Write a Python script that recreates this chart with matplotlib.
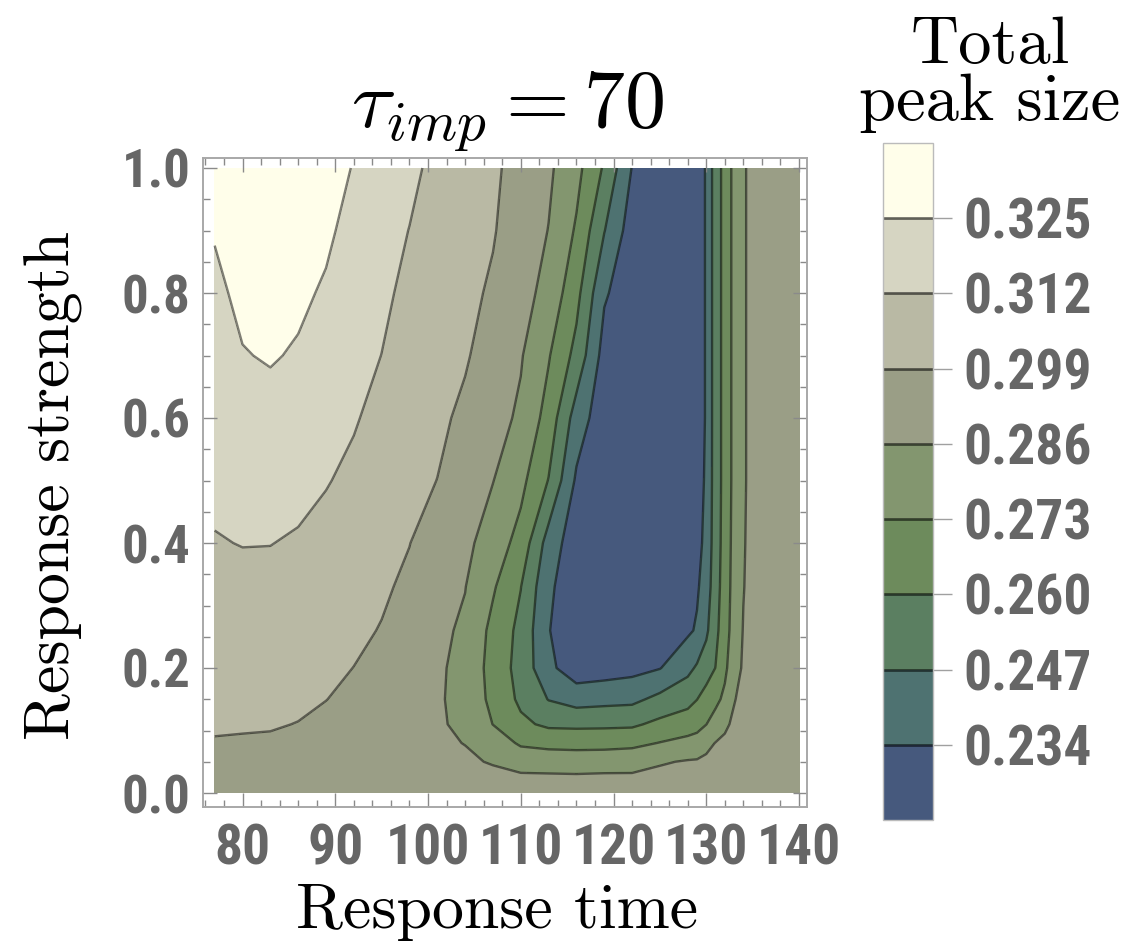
import numpy as np
import matplotlib
matplotlib.use("Agg")
import matplotlib.pyplot as plt
from matplotlib.ticker import MultipleLocator, FixedLocator

# ---------------- data ----------------
response_time = [77, 80, 83, 86, 89, 92, 95, 98, 101, 104, 107, 110, 113, 116,
                 119, 122, 125, 128, 129, 130, 131, 132, 133, 134, 135, 137, 140]
response_strength = [0.0, 0.02, 0.05, 0.08, 0.11, 0.15, 0.2, 0.26, 0.33, 0.4,
                     0.5, 0.6, 0.7, 0.8, 0.9, 1.0]

# total peak size, one list per response time (bottom -> top in response strength)
peak_t077 = [0.2930, 0.2944, 0.2964, 0.2985, 0.2999, 0.3015, 0.3034, 0.3058, 0.3086, 0.3114, 0.3144, 0.3172, 0.3200, 0.3228, 0.3257, 0.3290]
peak_t080 = [0.2930, 0.2943, 0.2963, 0.2982, 0.2998, 0.3015, 0.3037, 0.3063, 0.3093, 0.3123, 0.3163, 0.3203, 0.3245, 0.3273, 0.3302, 0.3330]
peak_t083 = [0.2930, 0.2942, 0.2961, 0.2980, 0.2996, 0.3013, 0.3035, 0.3061, 0.3092, 0.3122, 0.3169, 0.3216, 0.3258, 0.3285, 0.3312, 0.3340]
peak_t086 = [0.2930, 0.2941, 0.2957, 0.2974, 0.2988, 0.3005, 0.3026, 0.3051, 0.3080, 0.3109, 0.3152, 0.3196, 0.3240, 0.3269, 0.3295, 0.3320]
peak_t089 = [0.2930, 0.2938, 0.2950, 0.2963, 0.2975, 0.2991, 0.3010, 0.3034, 0.3061, 0.3088, 0.3126, 0.3163, 0.3201, 0.3238, 0.3268, 0.3290]
peak_t092 = [0.2930, 0.2936, 0.2945, 0.2953, 0.2962, 0.2974, 0.2989, 0.3010, 0.3035, 0.3060, 0.3097, 0.3129, 0.3158, 0.3187, 0.3216, 0.3245]
peak_t095 = [0.2930, 0.2934, 0.2940, 0.2947, 0.2953, 0.2962, 0.2973, 0.2985, 0.3005, 0.3027, 0.3058, 0.3088, 0.3119, 0.3142, 0.3160, 0.3180]
peak_t098 = [0.2930, 0.2928, 0.2925, 0.2923, 0.2923, 0.2927, 0.2937, 0.2952, 0.2970, 0.2992, 0.3017, 0.3042, 0.3068, 0.3093, 0.3118, 0.3145]
peak_t101 = [0.2930, 0.2915, 0.2895, 0.2880, 0.2873, 0.2872, 0.2875, 0.2885, 0.2905, 0.2935, 0.2989, 0.3010, 0.3030, 0.3050, 0.3070, 0.3091]
peak_t104 = [0.2930, 0.2908, 0.2880, 0.2857, 0.2838, 0.2828, 0.2830, 0.2842, 0.2863, 0.2890, 0.2935, 0.2970, 0.3000, 0.3017, 0.3033, 0.3049]
peak_t107 = [0.2930, 0.2903, 0.2850, 0.2800, 0.2728, 0.2695, 0.2680, 0.2695, 0.2745, 0.2800, 0.2863, 0.2905, 0.2945, 0.2975, 0.2998, 0.3008]
peak_t110 = [0.2930, 0.2895, 0.2809, 0.2712, 0.2625, 0.2575, 0.2555, 0.2565, 0.2603, 0.2685, 0.2765, 0.2840, 0.2870, 0.2905, 0.2930, 0.2951]
peak_t113 = [0.2930, 0.2890, 0.2810, 0.2689, 0.2577, 0.2465, 0.2370, 0.2345, 0.2365, 0.2415, 0.2595, 0.2680, 0.2740, 0.2820, 0.2857, 0.2881]
peak_t116 = [0.2930, 0.2890, 0.2803, 0.2685, 0.2573, 0.2417, 0.2265, 0.2255, 0.2250, 0.2260, 0.2320, 0.2410, 0.2560, 0.2640, 0.2715, 0.2769]
peak_t119 = [0.2930, 0.2895, 0.2805, 0.2688, 0.2575, 0.2430, 0.2280, 0.2255, 0.2245, 0.2245, 0.2250, 0.2260, 0.2290, 0.2355, 0.2475, 0.2584]
peak_t122 = [0.2930, 0.2892, 0.2812, 0.2698, 0.2579, 0.2439, 0.2300, 0.2255, 0.2245, 0.2240, 0.2240, 0.2245, 0.2250, 0.2265, 0.2275, 0.2335]
peak_t125 = [0.2930, 0.2900, 0.2849, 0.2734, 0.2631, 0.2504, 0.2335, 0.2275, 0.2260, 0.2255, 0.2255, 0.2258, 0.2262, 0.2265, 0.2270, 0.2275]
peak_t128 = [0.2930, 0.2905, 0.2869, 0.2767, 0.2668, 0.2557, 0.2436, 0.2320, 0.2295, 0.2290, 0.2290, 0.2290, 0.2290, 0.2290, 0.2290, 0.2290]
peak_t129 = [0.2930, 0.2907, 0.2872, 0.2779, 0.2689, 0.2598, 0.2486, 0.2353, 0.2325, 0.2310, 0.2310, 0.2310, 0.2310, 0.2310, 0.2310, 0.2310]
peak_t130 = [0.2930, 0.2910, 0.2881, 0.2830, 0.2728, 0.2650, 0.2541, 0.2445, 0.2395, 0.2365, 0.2350, 0.2345, 0.2345, 0.2345, 0.2345, 0.2345]
peak_t131 = [0.2930, 0.2913, 0.2888, 0.2863, 0.2788, 0.2695, 0.2602, 0.2570, 0.2555, 0.2548, 0.2545, 0.2545, 0.2545, 0.2545, 0.2545, 0.2545]
peak_t132 = [0.2930, 0.2917, 0.2896, 0.2875, 0.2845, 0.2760, 0.2700, 0.2665, 0.2650, 0.2642, 0.2637, 0.2637, 0.2637, 0.2637, 0.2637, 0.2637]
peak_t133 = [0.2930, 0.2920, 0.2905, 0.2890, 0.2875, 0.2855, 0.2820, 0.2795, 0.2785, 0.2778, 0.2770, 0.2770, 0.2770, 0.2770, 0.2770, 0.2770]
peak_t134 = [0.2930, 0.2925, 0.2915, 0.2905, 0.2895, 0.2885, 0.2872, 0.2865, 0.2856, 0.2852, 0.2848, 0.2848, 0.2848, 0.2848, 0.2848, 0.2848]
peak_t135 = [0.2930, 0.2928, 0.2925, 0.2920, 0.2915, 0.2910, 0.2902, 0.2897, 0.2893, 0.2890, 0.2888, 0.2888, 0.2888, 0.2888, 0.2888, 0.2888]
peak_t137 = [0.2930, 0.2929, 0.2928, 0.2926, 0.2924, 0.2922, 0.2920, 0.2920, 0.2920, 0.2920, 0.2920, 0.2920, 0.2920, 0.2920, 0.2920, 0.2920]
peak_t140 = [0.2930, 0.2930, 0.2930, 0.2930, 0.2930, 0.2930, 0.2930, 0.2930, 0.2930, 0.2930, 0.2930, 0.2930, 0.2930, 0.2930, 0.2930, 0.2930]

contour_levels = [0.221, 0.234, 0.247, 0.260, 0.273, 0.286, 0.299, 0.312, 0.325, 0.338]
tick_levels = [0.234, 0.247, 0.260, 0.273, 0.286, 0.299, 0.312, 0.325]
x_ticks = [80, 90, 100, 110, 120, 130, 140]
y_ticks = [0.0, 0.2, 0.4, 0.6, 0.8, 1.0]
band_colors = ["#46597D", "#4E7271", "#5B7F61", "#6D8B5C", "#83966F",
               "#9A9E86", "#B9B9A4", "#D6D5C2", "#FFFEEA"]

# ---------------- figure ----------------
plt.rcParams["mathtext.fontset"] = "cm"
TICK_FAMILY = ["Roboto Condensed", "Liberation Sans", "DejaVu Sans"]

W, H = 1137, 950
fig = plt.figure(figsize=(W / 100, H / 100), dpi=100)

ax = fig.add_axes([203 / W, (H - 807) / H, 604 / W, 649 / H])
columns = [peak_t077, peak_t080, peak_t083, peak_t086, peak_t089, peak_t092, peak_t095,
           peak_t098, peak_t101, peak_t104, peak_t107, peak_t110, peak_t113, peak_t116,
           peak_t119, peak_t122, peak_t125, peak_t128, peak_t129, peak_t130, peak_t131,
           peak_t132, peak_t133, peak_t134, peak_t135, peak_t137, peak_t140]
Z = np.column_stack(columns)
X, Y = np.meshgrid(response_time, response_strength)

cf = ax.contourf(X, Y, Z, levels=contour_levels, colors=band_colors, antialiased=False)
cs = ax.contour(X, Y, Z, levels=tick_levels, colors="black", alpha=0.5, linewidths=1.7)

ax.set_xlim(75.74, 140.86)
ax.set_ylim(-0.0224, 1.016)
ax.xaxis.set_major_locator(FixedLocator(x_ticks))
ax.xaxis.set_minor_locator(MultipleLocator(2))
ax.yaxis.set_major_locator(FixedLocator(y_ticks))
ax.yaxis.set_minor_locator(MultipleLocator(0.05))
ax.set_xticklabels([str(v) for v in x_ticks])
ax.set_yticklabels([f"{v:.1f}" for v in y_ticks])
for sp in ax.spines.values():
    sp.set_color("#a8a8a8")
    sp.set_linewidth(1.4)
ax.tick_params(which="both", direction="in", top=True, right=True, color="#8a8a8a", width=1)
ax.tick_params(which="major", length=10)
ax.tick_params(which="minor", length=5)
ax.tick_params(axis="x", which="major", pad=12, labelcolor="#666666")
ax.tick_params(axis="y", which="major", pad=9, labelcolor="#666666")
for lab in ax.get_xticklabels():
    lab.set_family(TICK_FAMILY)
    lab.set_fontweight("bold")
    lab.set_fontsize(40)
for lab in ax.get_yticklabels():
    lab.set_family(TICK_FAMILY)
    lab.set_fontweight("bold")
    lab.set_fontsize(38)

# colour legend
cax = fig.add_axes([883 / W, (H - 820) / H, 50 / W, 677 / H])
cbar = fig.colorbar(cf, cax=cax, ticks=tick_levels)
cbar.outline.set_edgecolor("#bbbbbb")
cbar.outline.set_linewidth(1.0)
cax.minorticks_off()
for lev in tick_levels:
    cax.axhline(lev, color="black", alpha=0.55, lw=2.0)
cax.set_yticklabels([f"{v:.3f}" for v in tick_levels])
cax.tick_params(direction="out", length=14, width=1, color="#a0a0a0", pad=8, labelcolor="#666666")
for lab in cax.get_yticklabels():
    lab.set_family(TICK_FAMILY)
    lab.set_fontweight("bold")
    lab.set_fontsize(40)

# texts
fig.text(508 / W, 1 - 127 / H, r"$\tau_{imp} = 70$", ha="center", va="baseline",
         fontsize=59, color="black")
fig.text(497 / W, 1 - 928 / H, "Response time", ha="center", va="baseline",
         fontsize=46, family="cmr10", color="black")
fig.text(70 / W, 1 - 486 / H, "Response strength", ha="center", va="baseline",
         rotation=90, rotation_mode="anchor", fontsize=46, family="cmr10", color="black")
fig.text(990 / W, 1 - 63 / H, "Total", ha="center", va="baseline",
         fontsize=48, family="cmr10", color="black")
fig.text(990 / W, 1 - 120 / H, "peak size", ha="center", va="baseline",
         fontsize=48, family="cmr10", color="black")

fig.savefig("out.png", dpi=100, facecolor="white")
